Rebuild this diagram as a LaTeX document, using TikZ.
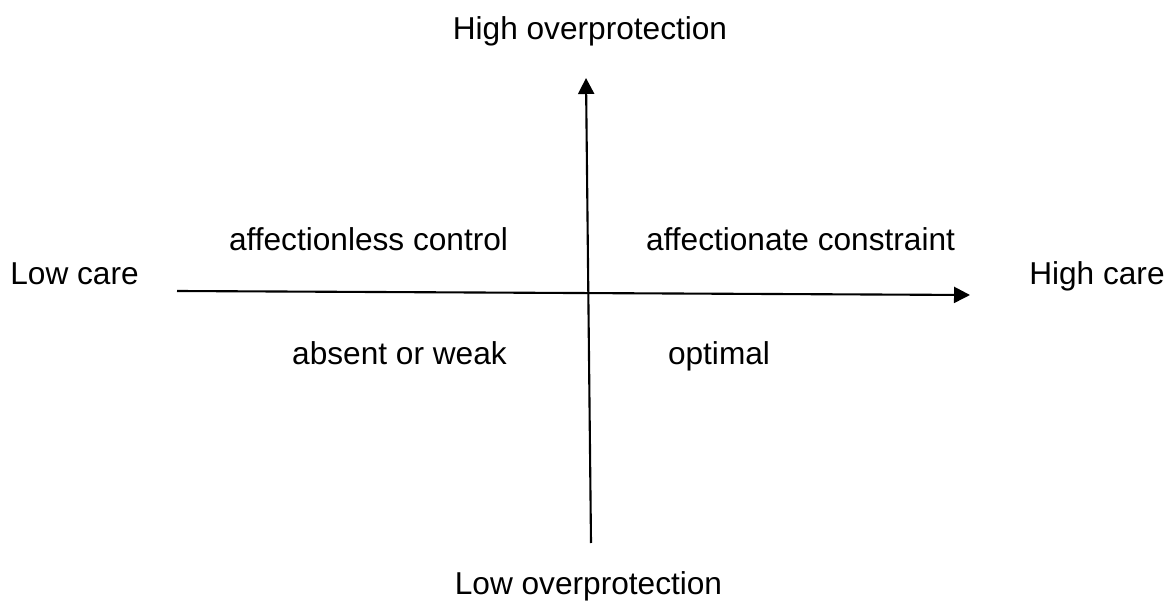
\documentclass[tikz,border=0pt]{standalone}
\usepackage{fontspec}
\setmainfont{Liberation Sans}
\usetikzlibrary{arrows.meta}

\tikzset{
  label/.style={font=\fontsize{18}{22}\selectfont, text=black, inner sep=0pt,
    text height=0.72em, text depth=0.21em},
  axis/.style={-{Triangle[length=0.32cm, width=0.32cm]}, line width=1.2pt}
}

\begin{document}
\begin{tikzpicture}

\useasboundingbox (0,0) rectangle (23.42,12.18);

% Axis ends
\coordinate (careLow) at (3.54,6.36);
\coordinate (careHigh) at (19.4,6.28);
\coordinate (protLow) at (11.82,1.32);
\coordinate (protHigh) at (11.72,10.62);

% Axes
\draw[axis] (careLow) -- (careHigh);
\draw[axis] (protLow) -- (protHigh);

% Axis labels
\node[label] (highprot) at (11.8,11.47) {High overprotection};
\node[label] (lowprot) at (11.77,0.37) {Low overprotection};
\node[label, anchor=west] (lowcare) at (0.2,6.57) {Low care};
\node[label, anchor=east] (highcare) at (23.3,6.57) {High care};

% Quadrants
\node[label] (affless) at (7.37,7.25) {affectionless control};
\node[label] (affcons) at (16.01,7.25) {affectionate constraint};
\node[label] (absent) at (7.99,4.97) {absent or weak};
\node[label] (optimal) at (14.38,4.97) {optimal};

\end{tikzpicture}
\end{document}
